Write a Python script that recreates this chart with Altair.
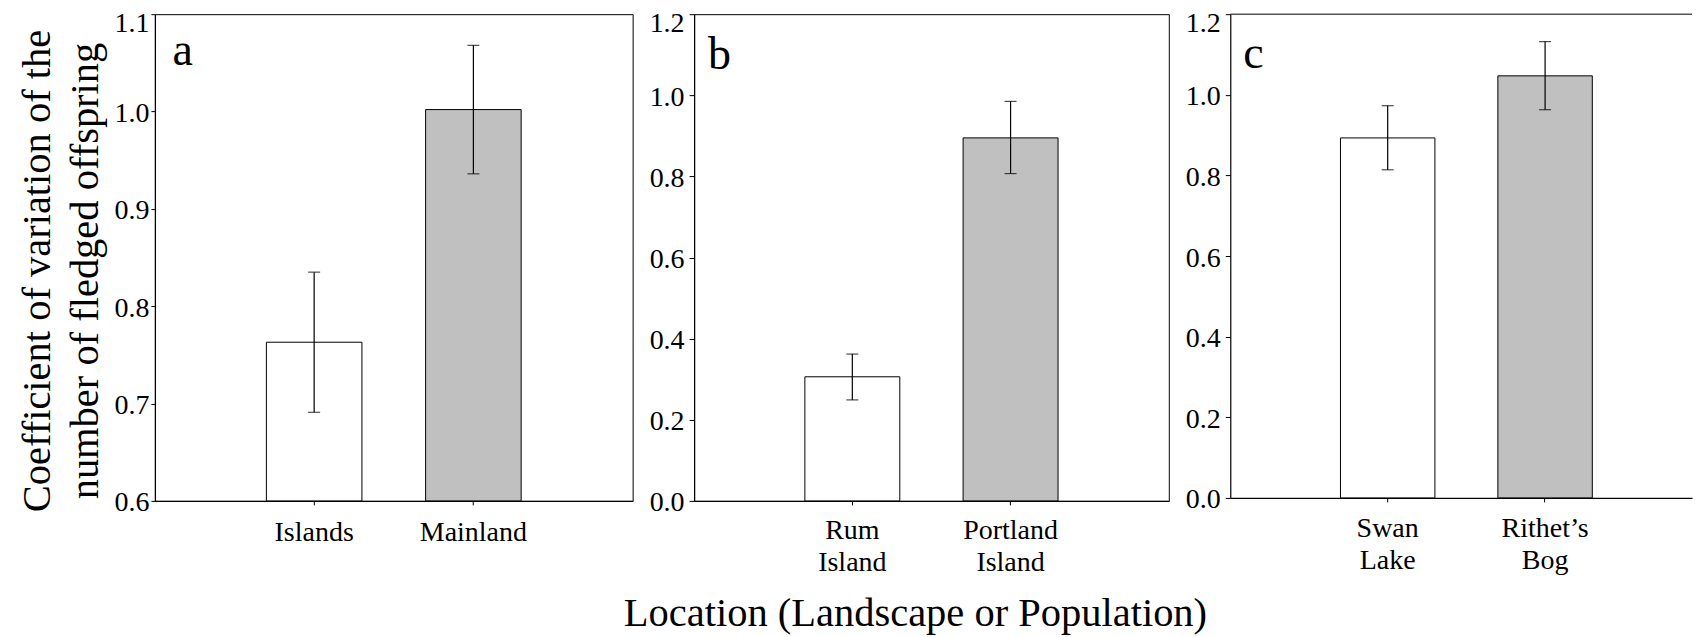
import altair as alt
import pandas as pd

FONT = "Liberation Serif"

# ---- data ----
a_labels = ["Islands", "Mainland"]
a_cv = [0.763, 1.002]
a_lo = [0.691, 0.936]
a_hi = [0.835, 1.068]

b_labels = ["Rum|Island", "Portland|Island"]
b_cv = [0.306, 0.895]
b_lo = [0.249, 0.807]
b_hi = [0.362, 0.985]

c_labels = ["Swan|Lake", "Rithet\u2019s|Bog"]
c_cv = [0.893, 1.047]
c_lo = [0.814, 0.963]
c_hi = [0.973, 1.132]

fill_kind = ["open", "shaded"]
fill_colors = ["#ffffff", "#c0c0c0"]

a_ticks = [0.6, 0.7, 0.8, 0.9, 1.0, 1.1]
bc_ticks = [0.0, 0.2, 0.4, 0.6, 0.8, 1.0, 1.2]

y_title = ["Coefficient of variation of the", "number of fledged offspring"]
x_title = "Location (Landscape or Population)"


def panel(labels, cv, lo, hi, letter, ydomain, yticks, width, height, xscale,
          letter_x, letter_y, ytick_size, ylabel_pad, xlabel_pad,
          y_axis_extra=None, x_axis_extra=None, frame=True):
    df = pd.DataFrame({"loc": labels, "cv": cv, "lo": lo, "hi": hi, "kind": fill_kind})

    xaxis_kw = dict(labelAngle=0, labelExpr="split(datum.label, '|')",
                    labelBaseline="alphabetic", labelPadding=xlabel_pad, tickSize=4,
                    labelFontSize=28, labelLineHeight=32.5, labelFont=FONT,
                    labelColor="black", title=None)
    if x_axis_extra:
        xaxis_kw.update(x_axis_extra)
    xenc = alt.X("loc:N", sort=labels, scale=xscale, axis=alt.Axis(**xaxis_kw))

    yaxis_kw = dict(values=yticks, format=".1f", tickSize=ytick_size,
                    labelPadding=ylabel_pad, labelFontSize=28, labelFont=FONT,
                    labelColor="black", grid=False,
                    labelBaseline={"condition": {"test": "datum.value > 1.09", "value": "top"},
                                   "value": "middle"},
                    labelOffset={"condition": {"test": "datum.value > 1.09", "value": -5},
                                 "value": 2},
                    title=None)
    if y_axis_extra:
        yaxis_kw.update(y_axis_extra)
    yaxis = alt.Axis(**yaxis_kw)
    yscale = alt.Scale(domain=ydomain, nice=False, zero=False)

    base = alt.Chart(df)
    bars = base.mark_bar(stroke="black", strokeWidth=1).encode(
        x=xenc,
        y=alt.Y("cv:Q", scale=yscale, axis=yaxis),
        y2=alt.Y2(datum=ydomain[0]),
        fill=alt.Fill("kind:N", scale=alt.Scale(domain=fill_kind, range=fill_colors), legend=None),
    )
    err = base.mark_rule(color="black", strokeWidth=1.2).encode(
        x=xenc, y=alt.Y("lo:Q", scale=yscale, axis=yaxis), y2="hi:Q")
    cap_lo = base.mark_tick(color="black", size=12, thickness=1.2).encode(
        x=xenc, y=alt.Y("lo:Q", scale=yscale, axis=yaxis))
    cap_hi = base.mark_tick(color="black", size=12, thickness=1.2).encode(
        x=xenc, y=alt.Y("hi:Q", scale=yscale, axis=yaxis))
    lab = alt.Chart(pd.DataFrame({"t": [letter]})).mark_text(
        font=FONT, fontSize=46, align="left", baseline="alphabetic", color="black"
    ).encode(text="t:N", x=alt.value(letter_x), y=alt.value(letter_y))

    layers = [bars, err, cap_lo, cap_hi, lab]
    props = dict(width=width, height=height)
    if not frame:
        top = alt.Chart(pd.DataFrame({"z": [0]})).mark_rule(color="black", strokeWidth=1).encode(
            x=alt.value(0), x2=alt.value(width), y=alt.value(0))
        layers.append(top)
        props["view"] = alt.ViewBackground(stroke="transparent")
    return alt.layer(*layers).properties(**props)


pa = panel(a_labels, a_cv, a_lo, a_hi, "a", [0.6, 1.1], a_ticks, 478, 487,
           alt.Scale(paddingInner=0.4, paddingOuter=0.7),
           17.5, 51, 4, 2, 35.7,
           y_axis_extra=dict(title=y_title, titleX=-105, titleY=256.5, titleAngle=270,
                             titleAlign="center", titleBaseline="alphabetic",
                             titleFontSize=40.5, titleFont=FONT, titleFontWeight="normal",
                             titleLineHeight=47.4, titleColor="black"))
pb = panel(b_labels, b_cv, b_lo, b_hi, "b", [0.0, 1.2], bc_ticks, 475, 487,
           alt.Scale(paddingInner=0.4, paddingOuter=0.7),
           14, 54.5, 5, 5, 33.5,
           x_axis_extra=dict(title=x_title, titleX=221, titleY=124.7,
                             titleAlign="center", titleBaseline="alphabetic",
                             titleFontSize=40.5, titleFont=FONT, titleFontWeight="normal",
                             titleColor="black"))
pc = panel(c_labels, c_cv, c_lo, c_hi, "c", [0.0, 1.2], bc_ticks, 462, 484,
           alt.Scale(paddingInner=0.4, paddingOuter=0.6667, align=0.525),
           13, 54, 5, 5, 34.5, frame=False)

chart = alt.hconcat(pa, pb, pc, spacing=61.5, bounds="flush").properties(
    padding={"left": 9, "top": 0, "right": 0, "bottom": 0},
    background="white",
).configure(font=FONT).configure_view(stroke="black", strokeWidth=1).configure_axis(
    domainColor="black", domainWidth=1.2, tickColor="black", tickWidth=1, grid=False,
    labelFont=FONT, titleFont=FONT,
).configure_text(font=FONT)

chart.save("out.html", embed_options={"renderer": "svg", "actions": False})
